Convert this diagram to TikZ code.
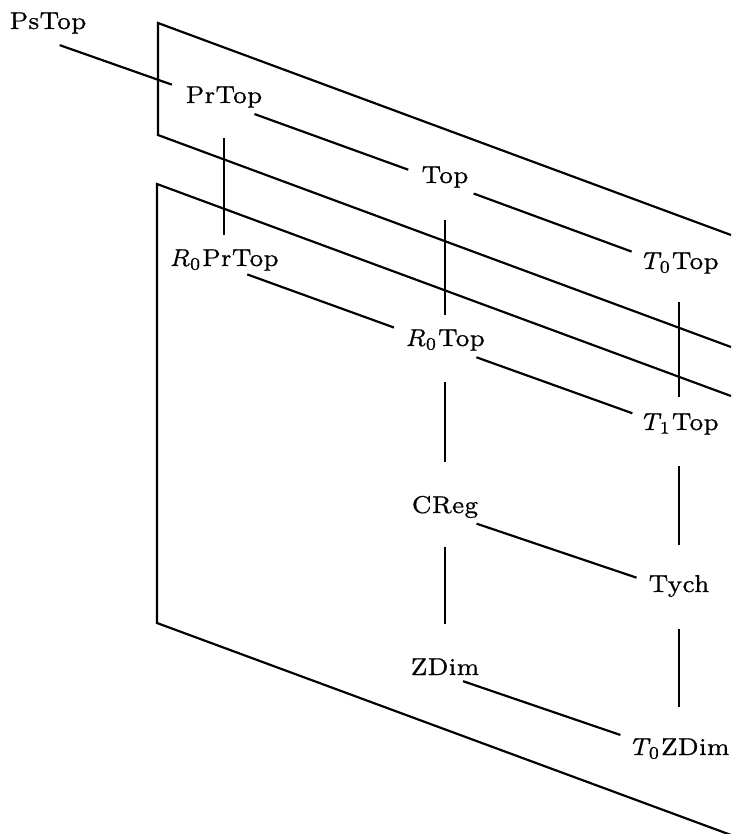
\documentclass[tikz,border=0pt]{standalone}
\usepackage{amsmath}
\usepackage{fontspec}
\usepackage{tikz}
\usetikzlibrary{
	arrows.meta,
	positioning
}
\newfontfamily\catfont{lmroman7-regular.otf}[FakeBold=0.6]
\newfontfamily\catit{lmroman7-italic.otf}[FakeBold=0.6]
\newcommand\idx[2]{{\catit #1}\raisebox{-0.35ex}{\fontsize{5.3}{6}\selectfont #2}\kern0.08em}

\tikzset{
	cat/.style={anchor=base,inner sep=0pt,font=\fontsize{7.3}{8.8}\selectfont\catfont},
	link/.style={line width=0.65pt},
	plane/.style={line width=0.65pt,line join=miter}
}

\begin{document}
\begin{tikzpicture}[x=0.0105cm,y=-0.0105cm]
	\useasboundingbox (0,0) rectangle (731,834);
	
	% planes
	\draw[plane] (731,235)--(158,23)--(158,135)--(731,347);
	\draw[plane] (731,396)--(157,184)--(157,623)--(731,835);
	
	% categories
	\node[cat] (PsTop) at (48,29){PsTop};
	\node[cat] (PrTop) at (224,103){PrTop};
	\node[cat] (Top) at (445,183){Top};
	\node[cat] (TzTop) at (679,269){\idx{T}{0}Top};
	\node[cat] (RzPrTop) at (224,266){\idx{R}{0}PrTop};
	\node[cat] (RzTop) at (445,346){\idx{R}{0}Top};
	\node[cat] (ToTop) at (679,430){\idx{T}{1}Top};
	\node[cat] (CReg) at (445,513){CReg};
	\node[cat] (Tych) at (679,592){Tych};
	\node[cat] (ZDim) at (445,675){ZDim};
	\node[cat] (TzZDim) at (679,755){\idx{T}{0}ZDim};
	
	% slanted links
	\draw[link,shorten <=0.13cm,shorten >=0.58cm] ([yshift=-0.126cm]PsTop.base)--(PrTop.base);
	\draw[link,shorten <=0.34cm,shorten >=0.41cm] (PrTop.base)--(Top.base);
	\draw[link,shorten <=0.32cm,shorten >=0.53cm] (Top.base)--(TzTop.base);
	\draw[link,shorten <=0.26cm,shorten >=0.57cm] (RzPrTop.base)--(RzTop.base);
	\draw[link,shorten <=0.35cm,shorten >=0.52cm] (RzTop.base)--(ToTop.base);
	\draw[link,shorten <=0.35cm,shorten >=0.47cm] (CReg.base)--(Tych.base);
	\draw[link,shorten <=0.20cm,shorten >=0.65cm] (ZDim.base)--(TzZDim.base);
	
	% vertical links
	\draw[link,shorten <=0.37cm,shorten >=0.33cm] (PrTop.base)--(RzPrTop.base);
	\draw[link,shorten <=0.39cm,shorten >=0.33cm] (Top.base)--(RzTop.base);
	\draw[link,shorten <=0.35cm,shorten >=0.35cm] (TzTop.base)--(ToTop.base);
	\draw[link,shorten <=0.38cm,shorten >=0.54cm] (RzTop.base)--(CReg.base);
	\draw[link,shorten <=0.38cm,shorten >=0.49cm] (ToTop.base)--(Tych.base);
	\draw[link,shorten <=0.36cm,shorten >=0.54cm] (CReg.base)--(ZDim.base);
	\draw[link,shorten <=0.39cm,shorten >=0.50cm] (Tych.base)--(TzZDim.base);
	
\end{tikzpicture}
\end{document}
